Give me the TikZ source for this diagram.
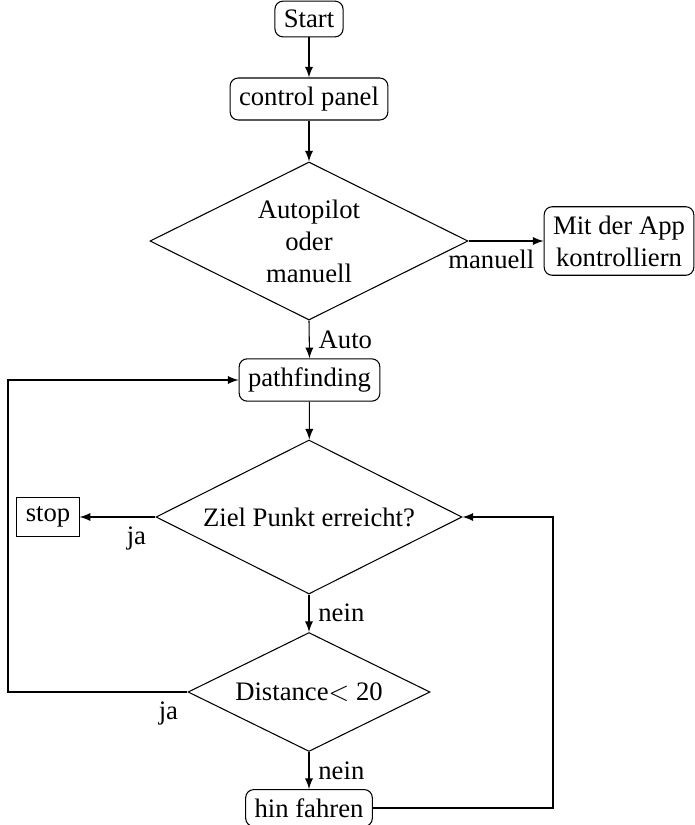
\documentclass[tikz,border=0pt]{standalone}
\usepackage{fontspec}
\setmainfont{Liberation Serif}
\usetikzlibrary{shapes.geometric,arrows}
\begin{document}
\begin{tikzpicture}[x={(0.375pt,0)},y={(0,-0.375pt)},
  stepbox/.style={draw,rounded corners=3pt,align=center},
  plainbox/.style={draw,align=center},
  decision/.style={draw,shape=diamond,aspect=2,inner sep=0pt,align=center},
  arr/.style={-latex},
  lbl/.style={inner sep=3.33pt}]
\useasboundingbox (0,0) rectangle (694,825);
\node[stepbox] (start) at (309,19) {Start};
\node[stepbox] (panel) at (309,99) {control panel};
\node[decision,minimum width=119.25pt,minimum height=59.25pt] (dec1) at (309,241) {Autopilot\\oder\\manuell};
\node[stepbox] (app) at (619,241) {Mit der App\\kontrolliern};
\node[stepbox] (path) at (309.5,380) {pathfinding};
\node[decision,minimum width=114.75pt,minimum height=57.75pt] (dec2) at (309,517) {Ziel Punkt erreicht?};
\node[plainbox] (stop) at (48,517) {stop};
\node[decision,minimum width=90.75pt,minimum height=44.6pt] (dec3) at (309,692) {Distance$<$ 20};
\node[stepbox] (hin) at (309,808) {hin fahren};
\coordinate (lft) at (8,500);
\coordinate (rgt) at (553,600);

\draw[arr] (start) -- (panel);
\draw[arr] (panel) -- (dec1);
\draw[arr] (dec1.east) -- node[lbl,below left,pos=1] {manuell} (app.west);
\draw[arr] (dec1.south) -- node[lbl,right] {Auto} (path.north);
\draw[arr] (path) -- (dec2);
\draw[arr] (dec2.west) -- node[lbl,below left,pos=0] {ja} (stop.east);
\draw[arr] (dec2.south) -- node[lbl,right] {nein} (dec3.north);
\draw[arr] (dec3.west) node[lbl,below left] {ja} -| (lft) |- (path.west);
\draw[arr] (dec3.south) -- node[lbl,right] {nein} (hin.north);
\draw[arr] (hin.east) -| (rgt) |- (dec2.east);
\end{tikzpicture}
\end{document}
